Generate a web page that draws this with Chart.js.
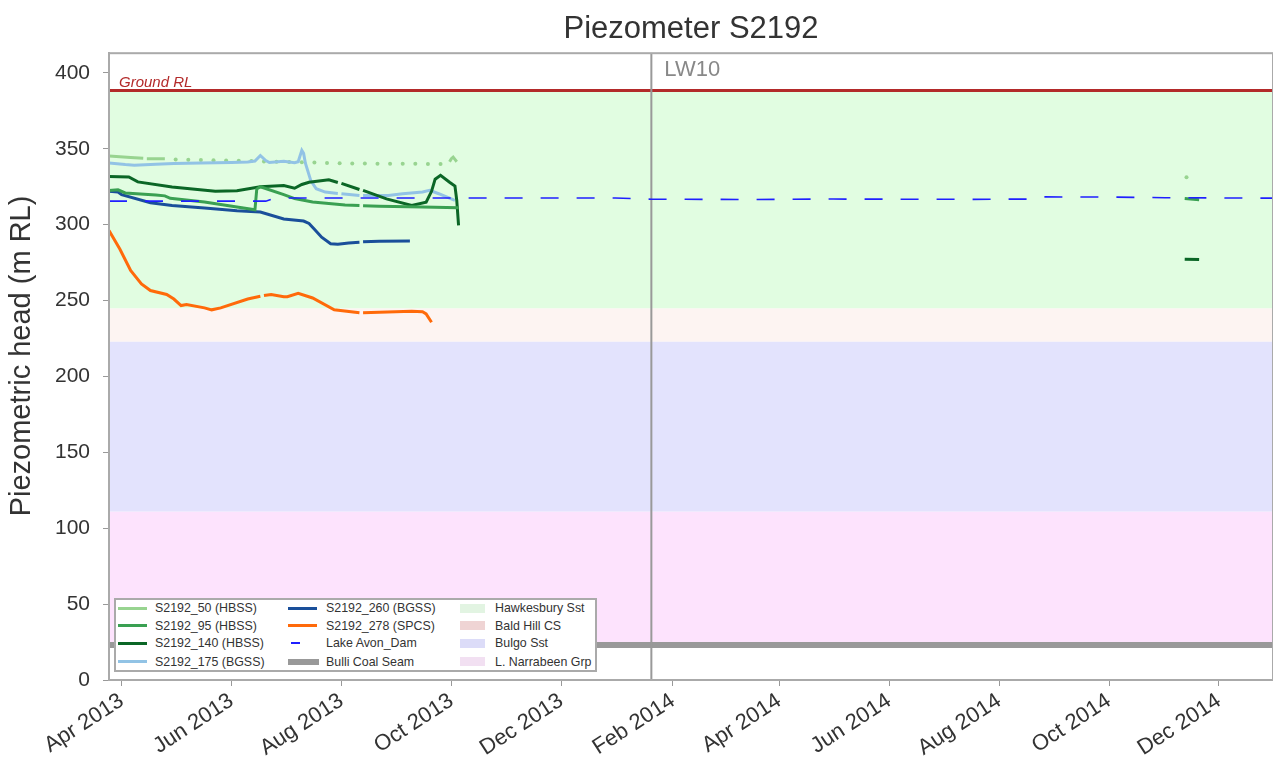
<!DOCTYPE html>
<html>
<head>
<meta charset="utf-8">
<title>Piezometer S2192</title>
<script src="https://cdn.jsdelivr.net/npm/chart.js@4.4.1/dist/chart.umd.min.js"></script>
<style>
  body { margin: 0; background: #fff; }
  #wrap { position: relative; width: 1273px; height: 761px; }
  #legend {
    position: absolute; left: 114px; top: 598px; width: 479px; height: 70px;
    border: 2px solid #aaa; background: #fff;
    font: 12.4px "Liberation Sans", Arial, sans-serif; color: #333;
  }
  .sw { position: absolute; }
  .lbl { position: absolute; height: 18px; line-height: 18px; white-space: nowrap; }
</style>
</head>
<body>
<div id="wrap">
  <canvas id="chart"></canvas>
  <div id="legend"></div>
</div>
<script>
// axis range and ticks
const xMin = '2013-03-25';
const xMax = '2014-12-31';
const yMax = 413;
const tickDates = ['2013-04-01', '2013-06-01', '2013-08-01', '2013-10-01', '2013-12-01', '2014-02-01',
                   '2014-04-01', '2014-06-01', '2014-08-01', '2014-10-01', '2014-12-01'];
const tickLabels = ['Apr 2013', 'Jun 2013', 'Aug 2013', 'Oct 2013', 'Dec 2013', 'Feb 2014',
                    'Apr 2014', 'Jun 2014', 'Aug 2014', 'Oct 2014', 'Dec 2014'];

// reference levels
const groundRL = 388.5;
const coalSeam = 23;
const lw10Date = '2014-01-20';

// geology
const formNames = ['Hawkesbury Sst', 'Bald Hill CS', 'Bulgo Sst', 'L. Narrabeen Grp'];
const formTop = [388.5, 245, 223, 111];
const formBase = [245, 223, 111, 23];

// S2192_50 (HBSS)
const s50Dates = ['2013-03-25', '2013-03-31', '2013-04-06', '2013-04-13', '2013-04-14', '2013-04-15', '2013-04-25',
                  '2013-04-26', '2013-09-30', '2013-10-01', '2013-10-02', '2013-10-03', '2013-10-04'];
const s50Vals = [345.2, 344.8, 344.3, 343.8, null, 343.5, 343.4,
                 null, 341.5, 343.5, 344.5, 343.0, 341.5];
// S2192_50 single weekly readings
const s50DotDates = ['2013-05-01', '2013-05-08', '2013-05-15', '2013-05-22', '2013-05-29', '2013-06-05',
                     '2013-06-12', '2013-06-19', '2013-06-26', '2013-07-03', '2013-07-10', '2013-07-17',
                     '2013-07-24', '2013-07-31', '2013-08-07', '2013-08-14', '2013-08-21', '2013-08-28',
                     '2013-09-04', '2013-09-11', '2013-09-18', '2013-09-25', '2014-11-13'];
const s50DotVals = [342.9, 342.8, 342.6, 342.5, 342.3, 342.1, 341.9, 341.7, 341.5, 341.3, 341.1, 340.9,
                    340.7, 340.5, 340.4, 340.3, 340.2, 340.2, 340.1, 340.1, 340.0, 340.0, 331.2];

// S2192_95 (HBSS)
const s95Dates = ['2013-03-25', '2013-03-30', '2013-04-03', '2013-04-20', '2013-04-25', '2013-04-28', '2013-05-17',
                  '2013-06-04', '2013-06-14', '2013-06-15', '2013-06-17', '2013-06-30', '2013-07-06', '2013-07-16',
                  '2013-08-03', '2013-08-11', '2013-08-12', '2013-08-13', '2013-08-22', '2013-09-15', '2013-10-05',
                  '2013-10-06', '2014-11-12', '2014-11-20'];
const s95Vals = [322.6, 323.0, 320.9, 319.5, 319.0, 317.4, 314.9,
                 311.6, 309.8, 323.5, 325.0, 319.8, 317.2, 315.0,
                 313.0, 312.6, null, 312.5, 312.2, 311.6, 311.2,
                 null, 317.2, 316.4];

// S2192_140 (HBSS)
const s140Dates = ['2013-03-25', '2013-04-05', '2013-04-10', '2013-04-29', '2013-05-23', '2013-06-04', '2013-06-17',
                   '2013-06-30', '2013-07-06', '2013-07-10', '2013-07-14', '2013-07-25', '2013-07-30', '2013-07-31',
                   '2013-08-01', '2013-08-11', '2013-08-12', '2013-08-13', '2013-08-26', '2013-09-09', '2013-09-17',
                   '2013-09-20', '2013-09-22', '2013-09-25', '2013-09-30', '2013-10-03', '2013-10-04', '2013-10-05',
                   '2013-10-06', '2014-11-12', '2014-11-20'];
const s140Vals = [331.8, 331.4, 328.2, 324.8, 322.0, 322.4, 325.0,
                  325.8, 324.0, 326.5, 328.0, 329.6, 327.8, null,
                  327.2, 323.2, null, 322.6, 317.0, 312.6, 314.8,
                  322.0, 330.0, 332.5, 328.0, 325.5, 316.0, 299.5,
                  null, 277.3, 277.0];

// S2192_175 (BGSS)
const s175Dates = ['2013-03-25', '2013-04-03', '2013-04-08', '2013-04-20', '2013-04-30', '2013-05-15', '2013-06-01',
                   '2013-06-10', '2013-06-14', '2013-06-17', '2013-06-20', '2013-06-22', '2013-06-30', '2013-07-06',
                   '2013-07-08', '2013-07-10', '2013-07-11', '2013-07-12', '2013-07-15', '2013-07-18', '2013-07-23',
                   '2013-07-30', '2013-07-31', '2013-08-01', '2013-08-11', '2013-08-12', '2013-08-13', '2013-08-27',
                   '2013-09-04', '2013-09-15', '2013-09-19', '2013-09-24', '2013-10-03'];
const s175Vals = [340.6, 339.6, 339.2, 339.8, 340.4, 340.6, 341.0,
                  341.3, 341.9, 345.6, 342.3, 341.0, 341.8, 340.8,
                  341.5, 349.0, 347.0, 340.5, 329.0, 323.7, 321.5,
                  320.6, null, 320.4, 319.3, null, 319.3, 319.3,
                  320.4, 321.5, 322.6, 320.4, 316.0];

// S2192_260 (BGSS)
const s260Dates = ['2013-03-25', '2013-03-30', '2013-04-01', '2013-04-17', '2013-04-29', '2013-05-17', '2013-06-04',
                   '2013-06-17', '2013-06-30', '2013-07-11', '2013-07-14', '2013-07-17', '2013-07-21', '2013-07-26',
                   '2013-07-30', '2013-08-05', '2013-08-11', '2013-08-12', '2013-08-13', '2013-08-22', '2013-09-08'];
const s260Vals = [322.0, 321.5, 319.8, 314.5, 312.7, 311.0, 309.2,
                  308.3, 303.8, 302.4, 300.8, 297.0, 291.8, 287.5,
                  287.2, 288.0, 288.5, null, 288.7, 289.1, 289.2];

// S2192_278 (SPCS)
const s278Dates = ['2013-03-25', '2013-03-31', '2013-04-06', '2013-04-12', '2013-04-17', '2013-04-26', '2013-04-30',
                   '2013-05-04', '2013-05-07', '2013-05-17', '2013-05-21', '2013-05-26', '2013-06-10', '2013-06-17',
                   '2013-06-18', '2013-06-19', '2013-06-23', '2013-06-30', '2013-07-02', '2013-07-08', '2013-07-16',
                   '2013-07-28', '2013-08-11', '2013-08-12', '2013-08-13', '2013-09-09', '2013-09-15', '2013-09-17',
                   '2013-09-20'];
const s278Vals = [296.2, 284.0, 269.8, 261.0, 256.6, 254.0, 251.0,
                  246.7, 247.4, 245.2, 243.9, 245.2, 251.0, 252.8,
                  null, 253.3, 254.0, 252.6, 252.6, 254.8, 251.7,
                  243.9, 242.0, null, 242.0, 243.0, 242.6, 241.2,
                  235.7];

// Lake Avon_Dam
const lakeDates = ['2013-03-25', '2013-06-20', '2013-06-24', '2013-07-01', '2013-12-31', '2014-01-20', '2014-03-15',
                   '2014-05-01', '2014-07-15', '2014-08-20', '2014-08-26', '2014-09-30', '2014-11-01', '2014-12-31'];
const lakeVals = [315.5, 315.5, 317.0, 317.6, 317.6, 316.8, 316.6,
                  316.9, 316.7, 316.9, 318.3, 318.2, 317.8, 317.5];

const toPts = (dates, vals) => dates.map((d, i) => ({ x: Date.parse(d), y: vals[i] }));
const flat = v => [{ x: Date.parse(xMin), y: v }, { x: Date.parse(xMax), y: v }];

const fontFam = '"Liberation Sans", Arial, sans-serif';
Chart.defaults.font.family = fontFam;
Chart.defaults.color = '#333';

function series(label, dates, vals, color) {
  return { label: label, data: toPts(dates, vals), borderColor: color, backgroundColor: color,
           borderWidth: 3, pointRadius: 0, tension: 0, order: 1, legendType: 'line' };
}

const formFill = ['#e1fde1', '#fdf4f2', '#e3e3fd', '#fde3fd'];
const formSwatch = ['#e2f4e2', '#efd4d4', '#dcdcf8', '#f2e0f2'];

const datasets = [
  series('S2192_50 (HBSS)', s50Dates, s50Vals, '#98d490'),
  series('S2192_95 (HBSS)', s95Dates, s95Vals, '#3aa052'),
  series('S2192_140 (HBSS)', s140Dates, s140Vals, '#0b6626'),
  series('S2192_175 (BGSS)', s175Dates, s175Vals, '#92c3e5'),
  series('S2192_260 (BGSS)', s260Dates, s260Vals, '#1a4f9a'),
  series('S2192_278 (SPCS)', s278Dates, s278Vals, '#ff6a0a'),
  { label: 'Lake Avon_Dam', data: toPts(lakeDates, lakeVals), borderColor: '#1f1fff', borderWidth: 1.6,
    borderDash: [18, 18], pointRadius: 0, order: 0, legendType: 'short' },
  { label: 'Bulli Coal Seam', data: flat(coalSeam), borderColor: '#999', borderWidth: 6,
    pointRadius: 0, order: 4, legendType: 'thick' }
];
formNames.forEach((n, i) => {
  datasets.push({ label: n, data: flat(formTop[i]), borderWidth: 0, pointRadius: 0,
                  backgroundColor: formFill[i], fill: { value: formBase[i] }, order: 6,
                  legendType: 'box', legendColor: formSwatch[i] });
});
// items without a legend entry
datasets.push({ label: 'S2192_50 dots', data: toPts(s50DotDates, s50DotVals), showLine: false,
                pointRadius: 2, pointBorderWidth: 0, pointBackgroundColor: '#98d490', order: 1, noLegend: true });
datasets.push({ label: 'Ground RL', data: flat(groundRL), borderColor: '#b32a2a', borderWidth: 3,
                pointRadius: 0, order: 3, noLegend: true });
datasets.push({ label: 'LW10', data: [{ x: Date.parse(lw10Date), y: 0 }, { x: Date.parse(lw10Date), y: yMax }],
                borderColor: '#999', borderWidth: 2, pointRadius: 0, order: 2, noLegend: true });

const extras = {
  id: 'extras',
  afterDatasetsDraw(chart) {
    const { ctx, chartArea: a, scales: { x, y } } = chart;
    ctx.save();
    ctx.strokeStyle = '#aaa';
    ctx.lineWidth = 2;
    ctx.strokeRect(a.left, a.top, a.right - a.left, a.bottom - a.top);
    ctx.fillStyle = '#b32a2a';
    ctx.font = 'italic 15px ' + fontFam;
    ctx.textBaseline = 'alphabetic';
    ctx.fillText('Ground RL', a.left + 10, y.getPixelForValue(groundRL) - 3);
    ctx.fillStyle = '#888';
    ctx.font = '22px ' + fontFam;
    ctx.fillText('LW10', x.getPixelForValue(Date.parse(lw10Date)) + 13, a.top + 23);
    // y axis title
    ctx.translate(22, 356);
    ctx.rotate(-Math.PI / 2);
    ctx.fillStyle = '#333';
    ctx.font = '29px ' + fontFam;
    ctx.textAlign = 'center';
    ctx.textBaseline = 'middle';
    ctx.fillText('Piezometric head (m RL)', 0, 0);
    ctx.restore();
  }
};

new Chart(document.getElementById('chart'), {
  type: 'line',
  data: { datasets: datasets },
  options: {
    responsive: true,
    maintainAspectRatio: false,
    animation: false,
    layout: { padding: 0, autoPadding: false },
    plugins: {
      legend: { display: false },
      tooltip: { enabled: false },
      title: { display: true, text: 'Piezometer S2192', color: '#333', fullSize: false,
               font: { size: 31, weight: 'normal' }, padding: { top: 11, bottom: 5 } }
    },
    scales: {
      x: {
        type: 'linear',
        min: Date.parse(xMin),
        max: Date.parse(xMax),
        afterBuildTicks: s => { s.ticks = tickDates.map(d => ({ value: Date.parse(d) })); },
        afterFit: s => { s.height = 81; s.paddingLeft = 0; s.paddingRight = 0; },
        ticks: { autoSkip: false, minRotation: 33, maxRotation: 33, padding: 2, color: '#333',
                 font: { size: 22 }, callback: (v, i) => tickLabels[i] },
        grid: { drawOnChartArea: false, tickLength: 6, color: '#999' },
        border: { color: '#aaa', width: 2 }
      },
      y: {
        min: 0,
        max: yMax,
        afterFit: s => { s.width = 109; s.paddingTop = 0; s.paddingBottom = 0; },
        ticks: { stepSize: 50, includeBounds: false, color: '#333', font: { size: 21 }, padding: 13 },
        grid: { drawOnChartArea: false, tickLength: 6, color: '#999' },
        border: { color: '#aaa', width: 2 }
      }
    }
  },
  plugins: [extras]
});

// legend in three columns of four
const cols = [{ sw: 2, tx: 39 }, { sw: 172, tx: 210 }, { sw: 344, tx: 379 }];
const rowMid = [8.3, 25.7, 43.3, 61.7];
const legend = document.getElementById('legend');
datasets.filter(d => !d.noLegend).forEach((d, i) => {
  const c = cols[Math.floor(i / 4)];
  const mid = rowMid[i % 4];
  const sw = document.createElement('div');
  sw.className = 'sw';
  let w = 29, h = 3, off = 0, col = d.borderColor;
  if (d.legendType === 'short') { w = 9; h = 2; off = 3; }
  if (d.legendType === 'thick') { w = 31; h = 6; }
  if (d.legendType === 'box') { w = 25; h = 9; col = d.legendColor; }
  sw.style.cssText = `left:${c.sw + off}px;top:${mid - h / 2}px;width:${w}px;height:${h}px;background:${col}`;
  const lb = document.createElement('div');
  lb.className = 'lbl';
  lb.style.left = c.tx + 'px';
  lb.style.top = (mid - 9) + 'px';
  lb.textContent = d.label;
  legend.appendChild(sw);
  legend.appendChild(lb);
});
</script>
</body>
</html>
